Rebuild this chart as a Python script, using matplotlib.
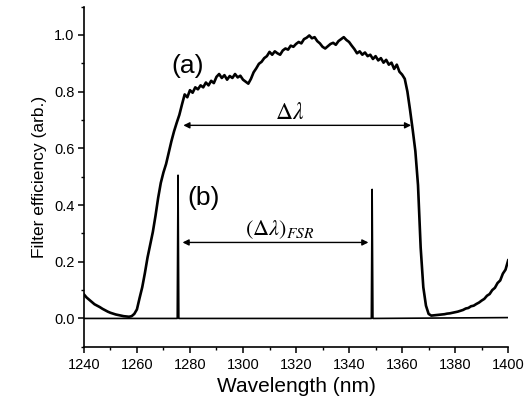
import numpy as np
from matplotlib import pyplot as plt
from matplotlib.ticker import MultipleLocator

plt.rcParams['font.family'] = ['Liberation Sans', 'DejaVu Sans']
plt.rcParams['mathtext.fontset'] = 'stix'

# (a) broadband filter response at 1 nm steps
wl_a = np.arange(1240, 1401)
eff_a = [
    0.085, 0.074, 0.066, 0.058, 0.050, 0.045, 0.040, 0.034, 0.029, 0.024,
    0.020, 0.017, 0.014, 0.012, 0.010, 0.008, 0.007, 0.006, 0.008, 0.016,
    0.032, 0.072, 0.110, 0.160, 0.215, 0.260, 0.305, 0.362, 0.425, 0.478,
    0.515, 0.545, 0.585, 0.625, 0.660, 0.690, 0.718, 0.755, 0.790, 0.780,
    0.805, 0.796, 0.815, 0.808, 0.822, 0.815, 0.832, 0.822, 0.838, 0.830,
    0.852, 0.862, 0.848, 0.858, 0.842, 0.855, 0.848, 0.862, 0.850, 0.856,
    0.842, 0.835, 0.828, 0.845, 0.868, 0.882, 0.898, 0.905, 0.918, 0.925,
    0.940, 0.930, 0.942, 0.935, 0.930, 0.945, 0.952, 0.948, 0.962, 0.958,
    0.968, 0.975, 0.970, 0.985, 0.990, 0.998, 0.988, 0.992, 0.978, 0.970,
    0.958, 0.952, 0.960, 0.968, 0.972, 0.965, 0.978, 0.985, 0.992, 0.982,
    0.975, 0.962, 0.950, 0.935, 0.942, 0.930, 0.938, 0.925, 0.930, 0.915,
    0.925, 0.910, 0.918, 0.902, 0.912, 0.895, 0.902, 0.880, 0.895, 0.870,
    0.860, 0.845, 0.800, 0.735, 0.665, 0.590, 0.470, 0.250, 0.110, 0.045,
    0.016, 0.010, 0.011, 0.012, 0.013, 0.014, 0.015, 0.017, 0.018, 0.020,
    0.022, 0.024, 0.027, 0.030, 0.035, 0.037, 0.043, 0.045, 0.051, 0.056,
    0.063, 0.069, 0.080, 0.086, 0.100, 0.108, 0.125, 0.134, 0.158, 0.172,
    0.205,
]

# (b) narrow FSR peaks
wl_b = [1240, 1275.2, 1275.5, 1275.8, 1348.4, 1348.7, 1349.0, 1400]
eff_b = [0.0, 0.0, 0.505, 0.0, 0.0, 0.455, 0.0, 0.003]

fig = plt.figure(figsize=(5.31, 4.08), dpi=100)
ax = fig.add_axes([0.158, 0.150, 0.799, 0.834])

ax.plot(wl_a, eff_a, color='k', lw=1.9)
ax.plot(wl_b, eff_b, color='k', lw=1.2)

arrow = dict(arrowstyle='<|-|>', color='k', lw=1.0, mutation_scale=9,
             shrinkA=0, shrinkB=0)
ax.annotate('', xy=(1277.5, 0.681), xytext=(1363.4, 0.681), arrowprops=arrow)
ax.annotate('', xy=(1277.2, 0.268), xytext=(1347.3, 0.268), arrowprops=arrow)

ax.text(1317.7, 0.726, r'$\Delta\lambda$', fontsize=17, ha='center', va='center')
ax.text(1313.9, 0.313, r'$(\Delta\lambda)_{FSR}$', fontsize=16, ha='center', va='center')
ax.text(1279.1, 0.892, '(a)', fontsize=19, ha='center', va='center')
ax.text(1285.3, 0.425, '(b)', fontsize=19, ha='center', va='center')

ax.set_xlim(1240, 1400)
ax.set_ylim(-0.1, 1.1)
ax.xaxis.set_major_locator(MultipleLocator(20))
ax.xaxis.set_minor_locator(MultipleLocator(10))
ax.yaxis.set_minor_locator(MultipleLocator(0.1))
ax.set_yticks([0.0, 0.2, 0.4, 0.6, 0.8, 1.0])
ax.yaxis.set_major_formatter(plt.FormatStrFormatter('%.1f'))

for s in ['top', 'right']:
    ax.spines[s].set_visible(False)
for s in ['left', 'bottom']:
    ax.spines[s].set_linewidth(1.2)

ax.tick_params(which='major', direction='out', length=4.5, width=1.1, labelsize=10.5)
ax.tick_params(which='minor', direction='out', length=2.5, width=1.0)
ax.tick_params(axis='x', pad=3.5)
ax.tick_params(axis='y', pad=2.2)

ax.set_xlabel('Wavelength (nm)', fontsize=15, labelpad=4)
ax.set_ylabel('Filter efficiency (arb.)', fontsize=12.5, labelpad=5)

fig.savefig('out.png', dpi=100)
